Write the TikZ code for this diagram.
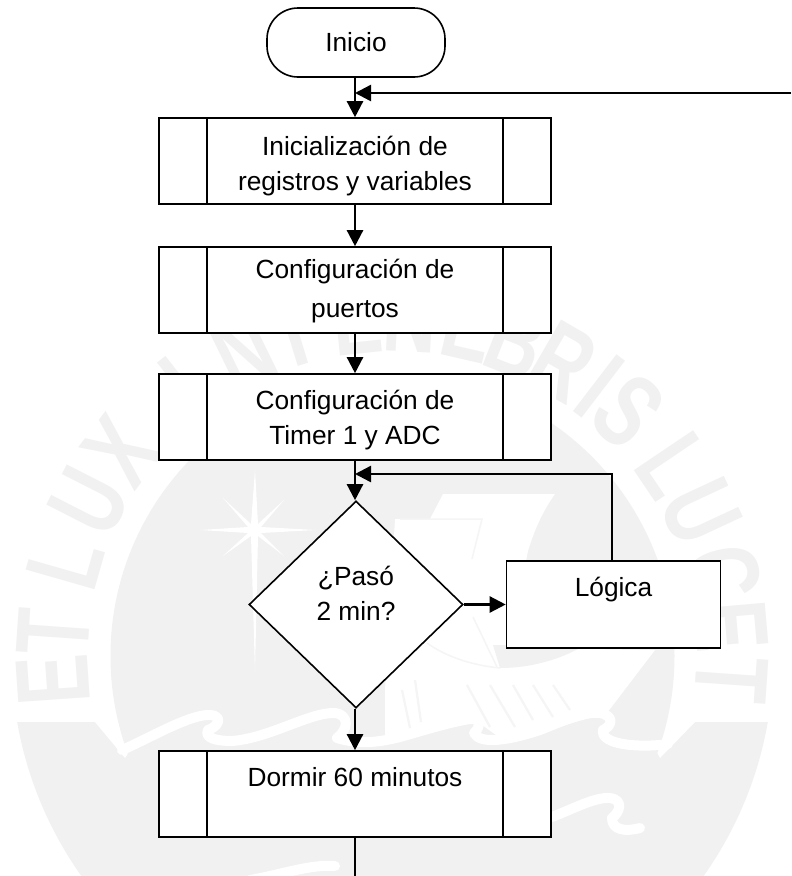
\documentclass[tikz,border=0pt]{standalone}
\usepackage{fontspec}
\setmainfont{Liberation Sans}
\usetikzlibrary{arrows.meta,shapes.geometric,calc}
\definecolor{wm}{HTML}{F1F1F1}
\definecolor{wmline}{HTML}{F5F5F5}
\tikzset{
  every node/.style={font=\fontsize{26.3pt}{35pt}\selectfont,align=center,inner sep=0pt},
  blockline/.style={draw=black,line width=1.6pt,fill=white},
  startbox/.style={blockline,rectangle,rounded corners=31pt,minimum width=178pt,minimum height=69pt},
  subproc/.style={blockline,rectangle,minimum width=392pt,minimum height=86pt,
    path picture={
      \draw[line width=1.6pt] ([xshift=48pt]path picture bounding box.north west)--([xshift=48pt]path picture bounding box.south west);
      \draw[line width=1.6pt] ([xshift=-48pt]path picture bounding box.north east)--([xshift=-48pt]path picture bounding box.south east);
    }},
  decision/.style={blockline,diamond,minimum width=214pt,minimum height=207pt,aspect=1},
  procbox/.style={blockline,rectangle,minimum width=214pt,minimum height=87pt},
  arr/.style={line width=2.4pt,-{Triangle[length=16pt,width=16pt]}},
  plainline/.style={line width=1.8pt},
  wmletter/.style={text=wm,font=\fontsize{104pt}{104pt}\bfseries\selectfont,anchor=center},
  wave/.style={draw=white,line width=10pt,line cap=round,line join=round}
}
\newcommand{\wmchar}[2]{%
  \node[wmletter,rotate=#1-90,xscale=0.72] at ($(392.5,656)+({340*cos(#1)},{-340*sin(#1)})$) {#2};}
\begin{document}
\begin{tikzpicture}[x=1pt,y=-1pt]
\useasboundingbox (0,0) rectangle (792,876);
\fill[white] (0,0) rectangle (792,876);
% --- watermark seal ---
\begin{scope}
  \clip (0,722) rectangle (792,876);
  \fill[wm] (392.5,656) circle[radius=381pt];
\end{scope}
\fill[white] (95,722)--(125,758)--(150,722)--cycle;
\fill[white] (695,722)--(660,758)--(640,722)--cycle;
\fill[wm] (392.5,656) circle[radius=282pt];
\wmchar{184}{E}\wmchar{176}{T}
\wmchar{164}{L}\wmchar{153}{U}\wmchar{143}{X}
\wmchar{128}{I}\wmchar{116}{N}
\wmchar{107}{T}\wmchar{96}{E}\wmchar{87}{N}\wmchar{77}{E}\wmchar{68.5}{B}\wmchar{60}{R}\wmchar{52.6}{I}\wmchar{46}{S}
\wmchar{34}{L}\wmchar{25}{U}\wmchar{14}{C}\wmchar{5}{E}\wmchar{-4}{T}
% star
\fill[white] (255,470)--(258,524)--(284,500)--(261,527)--(316,530)--(261,533)--(284,556)--(258,536)--(255,672)--(251,536)--(223,556)--(248,533)--(200,530)--(248,527)--(223,498)--(251,524)--cycle;
% sails and hull
\fill[white] (395,519)--(430,519)--(443,494)--(555,494) .. controls (540,515) and (533,535) .. (528,551) .. controls (520,590) and (520,620) .. (525,648)--(655,650)--(607,713)--(600,715)--(540,732)--(500,738)--(478,722)--(460,725)--(400,737)--(385,737)--(385,690)--cycle;
\fill[wm] (493,645)--(500,668) .. controls (530,668) and (560,660) .. (585,645)--cycle;
\draw[wmline,line width=1.5pt] (400,519)--(482,519)--(472,559);
\draw[wmline,line width=1.5pt] (427,643) .. controls (445,656) and (470,665) .. (500,668);
\draw[wmline,line width=1.5pt] (473,617)--(497,667);
\foreach \a/\b/\c/\d in {467/685/490/727,490/685/515/727,513/685/533/720,533/685/553/717,553/685/570/710,402/690/410/728,415/680/421/722}{
  \draw[wmline,line width=2.2pt] (\a,\b)--(\c,\d);
}
% waves
\draw[wave] (122,750) .. controls (150,738) and (190,714) .. (210,715) .. controls (224,716) and (218,727) .. (208,730) .. controls (204,738) and (216,741) .. (232,741) .. controls (270,738) and (310,712) .. (335,713) .. controls (350,715) and (348,730) .. (337,738) .. controls (360,745) and (380,742) .. (400,737) .. controls (425,730) and (450,722) .. (470,719) .. controls (482,718) and (480,728) .. (474,733) .. controls (480,745) and (510,740) .. (540,730) .. controls (560,722) and (585,711) .. (600,713) .. controls (615,716) and (612,726) .. (603,730) .. controls (600,745) and (640,748) .. (668,744);
\draw[wave] (552,817) .. controls (575,808) and (595,797) .. (610,798) .. controls (624,800) and (620,812) .. (612,818) .. controls (612,830) and (625,832) .. (640,828);
\draw[wave] (250,880) .. controls (280,875) and (310,864) .. (335,866);
% --- flowchart ---
\node[startbox] (inicio) at (356,42.5) {Inicio};
\node[subproc] (init) at (355,161) {\rule{0pt}{30pt}Inicialización de\\registros y variables};
\node[subproc] (ports) at (355,290) {\rule{0pt}{22pt}Configuración de\\[4pt]puertos};
\node[subproc] (timer) at (355,417) {\rule{0pt}{26pt}Configuración de\\Timer 1 y ADC};
\node[decision] (check) at (356,604.5) {¿Pasó\\2 min?\rule[-22pt]{0pt}{0pt}};
\node[procbox] (logica) at (613.5,604.5) {Lógica\\~};
\node[subproc] (dormir) at (355,794) {Dormir 60 minutos\\~};
\coordinate (rightend) at (791,93);
\coordinate (backjoin) at (355,474);
\coordinate (bottomend) at (355,877);
\draw[arr] (inicio.south -| init.north) -- (init.north);
\draw[arr] (rightend) -- (rightend -| init.north);
\draw[arr] (init.south) -- (ports.north);
\draw[arr] (ports.south) -- (timer.north);
\draw[arr] (timer.south) -- (timer.south |- check.north);
\draw[arr] (check.east) -- (logica.west);
\draw[arr] ([xshift=-1.5pt]logica.north) |- (backjoin);
\draw[arr] (check.south -| dormir.north) -- (dormir.north);
\draw[plainline] (dormir.south) -- (bottomend);
\end{tikzpicture}
\end{document}
